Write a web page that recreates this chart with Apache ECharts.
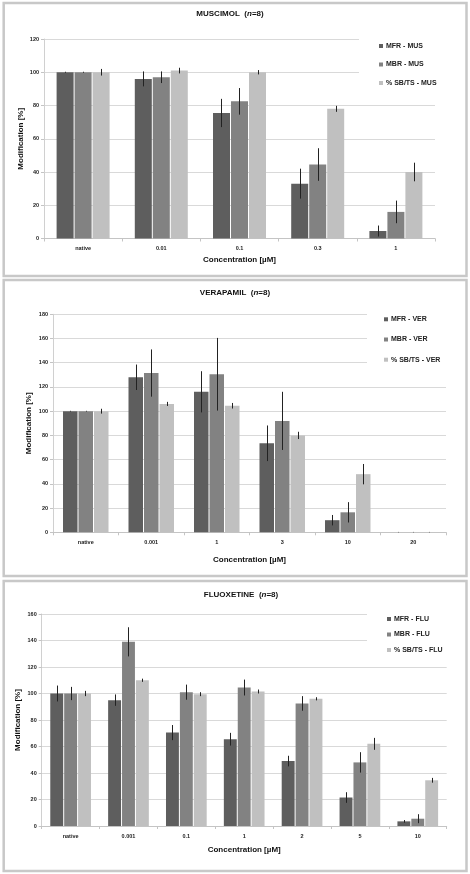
<!DOCTYPE html>
<html><head><meta charset="utf-8">
<script src="https://cdn.jsdelivr.net/npm/echarts@6/dist/echarts.min.js"></script>
<style>html,body{margin:0;padding:0;background:#fff}#c{width:470px;height:874px}</style>
</head><body><div id="c"></div>
<script>
// ---- DATA ----
const musCats = ['native','0.01','0.1','0.3','1'];
const musMFR = [100,96,75.5,33,4.5];
const musMFRErr = [0.3,4.5,8.5,9,3.3];
const musMBR = [100,97,82.5,44.5,16];
const musMBRErr = [0.3,3.5,8,9.8,6.8];
const musSB = [100,101,100,78,40];
const musSBErr = [2,1.7,1.3,1.8,5.6];
const musYMax = 120, musYStep = 20;

const verCats = ['native','0.001','1','3','10','20'];
const verMFR = [100,128,116,73.5,10,0];
const verMFRErr = [0.3,10.5,17,14.7,4.3,0.3];
const verMBR = [100,131.5,130.5,92,16.5,0];
const verMBRErr = [0.3,19.5,30,24,8.4,0.3];
const verSB = [100,106,104.5,80,48,0];
const verSBErr = [2,1.7,2.3,3,8.4,0.3];
const verYMax = 180, verYStep = 20;

const fluCats = ['native','0.001','0.1','1','2','5','10'];
const fluMFR = [100,95,70.5,65.5,49,21.5,3.5];
const fluMFRErr = [6,4.3,5.7,4.8,4,4,1];
const fluMBR = [100,139,101,104.5,92.5,48,5.5];
const fluMBRErr = [5,11,5.7,6,5.5,7.7,3.4];
const fluSB = [100,110,99.5,101.5,96,62,34.5];
const fluSBErr = [2,1.2,1.5,1.5,1.2,4.5,1.8];
const fluYMax = 160, fluYStep = 20;

const seriesLabels = ['MFR', 'MBR', '% SB/TS'];
const colors = ['#5e5e5e', '#828282', '#c0c0c0'];
const FONT = 'Liberation Sans, Arial, sans-serif';

// ---- LAYOUT ----
const panels = [
  {title:'MUSCIMOL', tag:'MUS', cats:musCats, vals:[musMFR,musMBR,musSB], errs:[musMFRErr,musMBRErr,musSBErr], max:musYMax, step:musYStep,
   box:[3.7,3,462.8,273], titleX:225, titleY:5, grid:{left:44,top:39,width:391,height:199.5}, barW:17,
   legend:{left:359,top:36,gap:10.5,pad:[6,8,6,20]}, xGap:17, yGap:19},
  {title:'VERAPAMIL', tag:'VER', cats:verCats, vals:[verMFR,verMBR,verSB], errs:[verMFRErr,verMBRErr,verSBErr], max:verYMax, step:verYStep,
   box:[3.7,280,462.8,296], titleX:230, titleY:284, grid:{left:53,top:314.3,width:393,height:218}, barW:14.5,
   legend:{left:367,top:309.3,gap:12.2,pad:[6,6,6,17]}, xGap:23, yGap:20},
  {title:'FLUOXETINE', tag:'FLU', cats:fluCats, vals:[fluMFR,fluMBR,fluSB], errs:[fluMFRErr,fluMBRErr,fluSBErr], max:fluYMax, step:fluYStep,
   box:[3.7,581,462.8,290], titleX:236, titleY:586, grid:{left:41.7,top:614,width:405,height:212}, barW:12.9,
   legend:{left:367,top:610,gap:7.5,pad:[5,6,5,20]}, xGap:19.5, yGap:19.5}
];
const GAP = 1;

const option = {animation:false, backgroundColor:'#fff', title:[], legend:[], grid:[], xAxis:[], yAxis:[], series:[],
  graphic: panels.map(p => ({type:'rect', shape:{x:p.box[0], y:p.box[1], width:p.box[2], height:p.box[3]},
     style:{fill:'none', stroke:'#c8c8c8', lineWidth:2.5}, z:-10}))};

panels.forEach((p, gi) => {
  option.title.push({text:'{b|' + p.title + '  (}{i|n}{b|=8)}', left:p.titleX, top:p.titleY, textAlign:'center',
    textStyle:{rich:{b:{fontFamily:FONT, fontSize:8, fontWeight:'bold', color:'#111'},
                     i:{fontFamily:FONT, fontSize:8, fontWeight:'bold', fontStyle:'italic', color:'#111'}}}});
  option.grid.push(Object.assign({containLabel:false}, p.grid));
  option.xAxis.push({type:'category', gridIndex:gi, data:p.cats,
    axisLine:{lineStyle:{color:'#c4c4c4', width:1}},
    axisTick:{show:true, length:3, lineStyle:{color:'#c4c4c4'}},
    axisLabel:{fontFamily:FONT, fontSize:5.5, fontWeight:'bold', color:'#222', margin:7},
    name:'Concentration [µM]', nameLocation:'middle', nameGap:p.xGap, nameMoveOverlap:false,
    nameTextStyle:{fontFamily:FONT, fontSize:8, fontWeight:'bold', color:'#111'}});
  option.yAxis.push({type:'value', gridIndex:gi, min:0, max:p.max, interval:p.step,
    axisLine:{show:true, lineStyle:{color:'#d0d0d0'}},
    axisTick:{show:true, length:3, lineStyle:{color:'#c4c4c4'}},
    splitLine:{lineStyle:{color:'#d9d9d9', width:1}},
    axisLabel:{fontFamily:FONT, fontSize:5.5, fontWeight:'bold', color:'#222', margin:5},
    name:'Modification [%]', nameLocation:'middle', nameGap:p.yGap, nameRotate:90, nameMoveOverlap:false,
    nameTextStyle:{fontFamily:FONT, fontSize:8, fontWeight:'bold', color:'#111'}});
  const names = seriesLabels.map(s => s + ' - ' + p.tag);
  option.legend.push({orient:'vertical', left:p.legend.left, top:p.legend.top, itemGap:p.legend.gap,
    padding:p.legend.pad, backgroundColor:'#fff', itemWidth:4, itemHeight:4, icon:'rect', data:names,
    selectedMode:false, z:10,
    textStyle:{fontFamily:FONT, fontSize:7, fontWeight:'bold', color:'#222', lineHeight:8, padding:[0,0,0,-2]}});
  const gapPct = (GAP / p.barW * 100) + '%';
  names.forEach((nm, k) => {
    option.series.push({type:'bar', name:nm, xAxisIndex:gi, yAxisIndex:gi, data:p.vals[k],
      barWidth:p.barW, barGap:gapPct, itemStyle:{color:colors[k]}, silent:true});
  });
  names.forEach((nm, k) => {
    const bw = p.barW;
    option.series.push({type:'custom', name:nm + ' err', xAxisIndex:gi, yAxisIndex:gi, z:5, silent:true,
      encode:{x:0, y:1},
      data:p.vals[k].map((v, i) => [i, v, p.errs[k][i]]),
      renderItem:(params, api) => {
        const i = api.value(0), v = api.value(1), e = api.value(2);
        const off = (k - 1) * (bw + GAP);
        const a = api.coord([i, v + e]), b = api.coord([i, Math.max(0, v - e)]);
        const x = Math.round(a[0] + off) + 0.5;
        return {type:'line', shape:{x1:x, y1:a[1], x2:x, y2:b[1]}, style:{stroke:'#222', lineWidth:1}};
      }});
  });
});

const chart = echarts.init(document.getElementById('c'), null, {renderer:'canvas'});
chart.setOption(option);
</script>
</body></html>
